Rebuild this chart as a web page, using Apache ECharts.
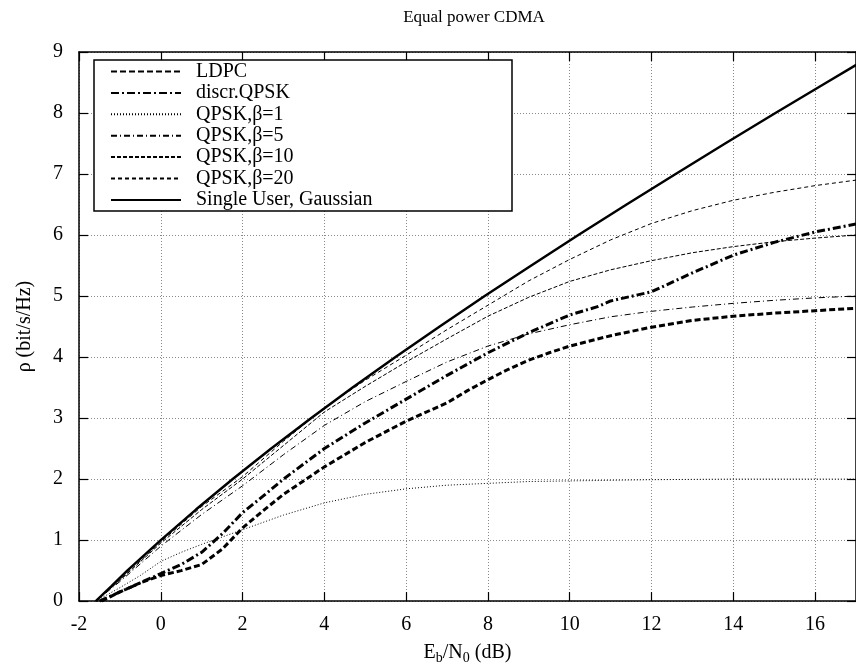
<!DOCTYPE html>
<html>
<head>
<meta charset="utf-8">
<script src="https://cdn.jsdelivr.net/npm/echarts@6/dist/echarts.min.js"></script>
<style>
  html, body { margin: 0; padding: 0; background: #fff; }
  #chart { width: 856px; height: 670px; }
</style>
</head>
<body>
<div id="chart"></div>
<script>
// [Eb/N0 (dB), rho] pairs
const ldpc = [[-1.45, 0], [-1, 0.15], [-0.5, 0.3], [0, 0.42], [0.5, 0.5], [1, 0.6], [1.5, 0.85], [2, 1.2], [2.5, 1.48], [3, 1.75], [4, 2.2], [5, 2.6], [6, 2.95], [7, 3.25], [7.5, 3.45], [8, 3.63], [8.5, 3.8], [9, 3.95], [9.5, 4.07], [10, 4.18], [11, 4.35], [12, 4.49], [13, 4.6], [14, 4.67], [15, 4.72], [16, 4.76], [17, 4.8]];
const discrQpsk = [[-1.5, 0], [-1, 0.15], [-0.5, 0.3], [0, 0.45], [0.5, 0.6], [1, 0.8], [1.5, 1.1], [2, 1.45], [2.5, 1.72], [3, 2.0], [4, 2.5], [5, 2.92], [6, 3.31], [7, 3.7], [8, 4.07], [9, 4.4], [10, 4.69], [10.7, 4.83], [11, 4.92], [12, 5.07], [13, 5.38], [14, 5.67], [15, 5.88], [16, 6.05], [17, 6.18]];
const qpskB1 = [[-1.59, 0], [-1, 0.22], [-0.5, 0.42], [0, 0.65], [0.5, 0.8], [1, 0.93], [2, 1.17], [3, 1.41], [4, 1.61], [5, 1.75], [6, 1.84], [7, 1.9], [8, 1.93], [9, 1.96], [10, 1.97], [12, 1.99], [14, 2.0], [17, 2.0]];
const qpskB5 = [[-1.59, 0], [-1, 0.32], [0, 0.9], [1, 1.42], [2, 1.89], [3, 2.4], [4, 2.88], [5, 3.27], [6, 3.6], [7, 3.92], [8, 4.18], [9, 4.38], [10, 4.53], [11, 4.66], [12, 4.75], [13, 4.82], [14, 4.88], [15, 4.93], [16, 4.97], [17, 5.0]];
const qpskB10 = [[-1.59, 0], [-1, 0.34], [0, 0.95], [1, 1.5], [2, 2.0], [3, 2.55], [4, 3.1], [5, 3.52], [6, 3.92], [7, 4.3], [8, 4.67], [9, 4.98], [10, 5.24], [11, 5.43], [12, 5.58], [13, 5.71], [14, 5.81], [15, 5.89], [16, 5.95], [17, 6.0]];
const qpskB20 = [[-1.59, 0], [-1, 0.35], [0, 0.97], [1, 1.55], [2, 2.04], [3, 2.62], [4, 3.17], [5, 3.62], [6, 4.03], [7, 4.45], [8, 4.85], [9, 5.25], [10, 5.6], [11, 5.92], [12, 6.19], [13, 6.4], [14, 6.57], [15, 6.7], [16, 6.81], [17, 6.9]];
const singleUser = [[-1.59, 0], [-1.2, 0.25], [-0.82, 0.5], [-0.41, 0.75], [0, 1], [0.86, 1.5], [1.76, 2], [2.7, 2.5], [3.68, 3], [4.69, 3.5], [5.74, 4], [6.82, 4.5], [7.92, 5], [9.06, 5.5], [10.21, 6], [11.39, 6.5], [12.59, 7], [13.8, 7.5], [15.03, 8], [16.28, 8.5], [17.54, 9]];

const seriesNames = ["LDPC", "discr.QPSK", "QPSK,β=1", "QPSK,β=5", "QPSK,β=10", "QPSK,β=20", "Single User, Gaussian"];

const FONT = "'Liberation Serif', 'Times New Roman', serif";
const chart = echarts.init(document.getElementById("chart"));

// line looks of the gnuplot curves
const styles = [
  { width: 3, type: [6, 3] },
  { width: 3, type: [8, 3, 2, 3] },
  { width: 1, type: [1, 2] },
  { width: 1, type: [6, 3, 1, 3] },
  { width: 1, type: [4, 2] },
  { width: 1, type: [4, 3] },
  { width: 2.5, type: "solid" },
];
const allData = [ldpc, discrQpsk, qpskB1, qpskB5, qpskB10, qpskB20, singleUser];

const tickStyle = { show: true, inside: true, length: 9, lineStyle: { color: "#000", width: 1.2 } };
const frameLine = { show: true, onZero: false, lineStyle: { color: "#000", width: 1.5 } };
const gridLine = { show: true, lineStyle: { color: "#888", width: 1, type: [1, 2] } };

const option = {
  animation: false,
  backgroundColor: "#fff",
  title: {
    text: "Equal power CDMA",
    left: 469,
    top: 4,
    textAlign: "center",
    textStyle: { fontFamily: FONT, fontSize: 17, fontWeight: "normal", color: "#000" },
  },
  grid: { left: 79, right: -4, top: 52, bottom: 67 },
  legend: {
    orient: "vertical",
    left: 110,
    top: 61,
    padding: 0,
    itemWidth: 70,
    itemHeight: 14,
    itemGap: 0.4,
    data: seriesNames,
    itemStyle: { opacity: 0 },
    textStyle: { fontFamily: FONT, fontSize: 20, color: "#000", lineHeight: 21, padding: [0, 0, 0, 10] },
  },
  graphic: [
    {
      type: "rect",
      z: 3,
      shape: { x: 94, y: 60, width: 418, height: 151 },
      style: { fill: "#fff", stroke: "#000", lineWidth: 1.5 },
    },
  ],
  xAxis: [
    {
      type: "value",
      min: -2,
      max: 17,
      interval: 2,
      position: "bottom",
      axisLine: frameLine,
      axisTick: tickStyle,
      splitLine: gridLine,
      axisLabel: { margin: 14, showMaxLabel: false, fontFamily: FONT, fontSize: 20, color: "#000" },
      name: "{n|E}{s|b}{n|/N}{s|0}{n| (dB)}",
      nameLocation: "middle",
      nameGap: 40,
      nameTextStyle: {
        color: "#000",
        rich: {
          n: { fontFamily: FONT, fontSize: 20, color: "#000", lineHeight: 22 },
          s: { fontFamily: FONT, fontSize: 14, color: "#000", lineHeight: 16, padding: [11, 0, 0, 0] },
        },
      },
    },
    {
      type: "value",
      min: -2,
      max: 17,
      interval: 2,
      position: "top",
      axisLine: frameLine,
      axisTick: tickStyle,
      splitLine: { show: false },
      axisLabel: { show: false },
    },
  ],
  yAxis: [
    {
      type: "value",
      min: 0,
      max: 9,
      interval: 1,
      position: "left",
      axisLine: frameLine,
      axisTick: tickStyle,
      splitLine: gridLine,
      axisLabel: { margin: 16, fontFamily: FONT, fontSize: 20, color: "#000" },
      name: "ρ (bit/s/Hz)",
      nameLocation: "middle",
      nameRotate: 90,
      nameGap: 44,
      nameTextStyle: { fontFamily: FONT, fontSize: 20, color: "#000" },
    },
    {
      type: "value",
      min: 0,
      max: 9,
      interval: 1,
      position: "right",
      axisLine: frameLine,
      axisTick: tickStyle,
      splitLine: { show: false },
      axisLabel: { show: false },
    },
  ],
  series: allData.map((d, i) => ({
    name: seriesNames[i],
    type: "line",
    data: d,
    xAxisIndex: 0,
    yAxisIndex: 0,
    symbol: "none",
    smooth: false,
    color: "#000",
    lineStyle: { color: "#000", width: styles[i].width, type: styles[i].type },
  })),
};

chart.setOption(option);
</script>
</body>
</html>
